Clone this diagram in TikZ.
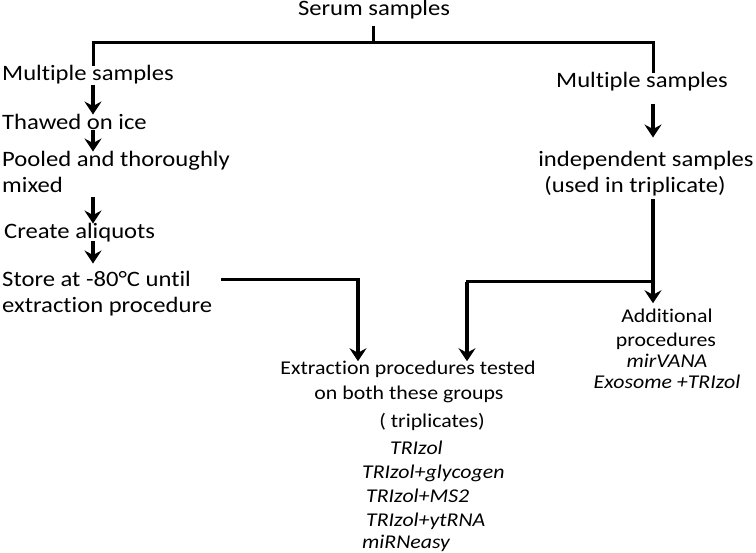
\documentclass[tikz,border=0pt]{standalone}
\usepackage{fontspec}
\setmainfont{Carlito}[FakeStretch=1.12,RawFeature={-liga;-dlig;-clig}]
\usetikzlibrary{arrows.meta}
\begin{document}
\begin{tikzpicture}[x=1pt,y=-1pt,
  big/.style={inner sep=0pt, font=\fontsize{22}{26}\selectfont},
  small/.style={inner sep=0pt, font=\fontsize{19.5}{23}\selectfont},
  ital/.style={inner sep=0pt, font=\fontsize{19.5}{23}\selectfont\itshape},
  ln/.style={line width=3pt},
  arr/.style={line width=3.5pt,-{Stealth[length=13pt,width=17pt,inset=4.5pt]}}]
\useasboundingbox (0,0) rectangle (756,553);
% columns and junctions
\coordinate (colL) at (93,0);
\coordinate (colR) at (653,0);
\coordinate (top) at (373,43);
\coordinate (jL) at (93,43);
\coordinate (jR) at (653,43);
\coordinate (s1) at (222,280);
\coordinate (s2) at (358,280);
\coordinate (r1) at (653,282);
\coordinate (r2) at (467,282);
% texts
\node[big,anchor=base] (serum) at (374,16) {Serum samples};
\node[big,anchor=base west] (ms1) at (2,81) {Multiple samples};
\node[big,anchor=base west] (thaw) at (2,130) {Thawed on ice};
\node[big,anchor=base west] (pool) at (2,167) {Pooled and thoroughly};
\node[big,anchor=base west] (mixed) at (2,193) {mixed};
\node[big,anchor=base west] (aliq) at (4,239) {Create aliquots};
\node[big,anchor=base west] (store) at (2,287) {Store at -80°C until};
\node[big,anchor=base west] (store2) at (2,313) {extraction procedure};
\node[big,anchor=base] (ms2) at (642,88) {Multiple samples};
\node[big,anchor=base] (ind) at (646,167) {independent samples};
\node[big,anchor=base] (ind2) at (635,193) {(used in triplicate)};
\node[small,anchor=base] (add) at (667,323) {Additional};
\node[small,anchor=base] (add2) at (666,347) {procedures};
\node[ital,anchor=base] (mv) at (667,368) {mirVANA};
\node[ital,anchor=base] (exo) at (667,389) {Exosome +TRIzol};
\node[small,anchor=base] (ext) at (408,375) {Extraction procedures tested};
\node[small,anchor=base] (ext2) at (409,400) {on both these groups};
\node[small,anchor=base] (ext3) at (432,428) {( triplicates)};
\node[ital,anchor=base west] (t1) at (390,455) {TRIzol};
\node[ital,anchor=base west] (t2) at (362,479) {TRIzol+glycogen};
\node[ital,anchor=base west] (t3) at (366,503) {TRIzol+MS2};
\node[ital,anchor=base west] (t4) at (366,526) {TRIzol+ytRNA};
\node[ital,anchor=base west] (t5) at (362,549) {miRNeasy};
% bracket from serum samples
\draw[ln] (serum.south -| top) ++(0,6) -- (top);
\draw[ln,line cap=rect] (jL) -- (jR);
\draw[ln] (jL) -- (ms1.north -| colL);
\draw[ln] (jR) -- (ms2.north -| colR);
% left chain
\draw[arr] (ms1.south -| colL) -- (thaw.north -| colL);
\draw[arr] (thaw.south -| colL) -- (pool.north -| colL);
\draw[arr] (mixed.south -| colL) ++(0,4) -- (aliq.north -| colL);
\draw[arr,shorten >=8pt] (aliq.south -| colL) ++(0,-2) -- (store.north -| colL);
% store to extraction
\draw[ln,line cap=rect] (s1) -- (s2);
\draw[arr] (s2) -- (ext.north -| s2);
% right chain
\draw[arr,shorten <=12pt,shorten >=14pt] (ms2.south -| colR) -- (ind.north -| colR);
\draw[arr,shorten <=2pt,shorten >=6pt] (ind2.south -| colR) -- (add.north -| colR);
\draw[ln,line cap=rect] (r1) -- (r2);
\draw[arr] (r2) -- (ext.north -| r2);
\end{tikzpicture}
\end{document}
